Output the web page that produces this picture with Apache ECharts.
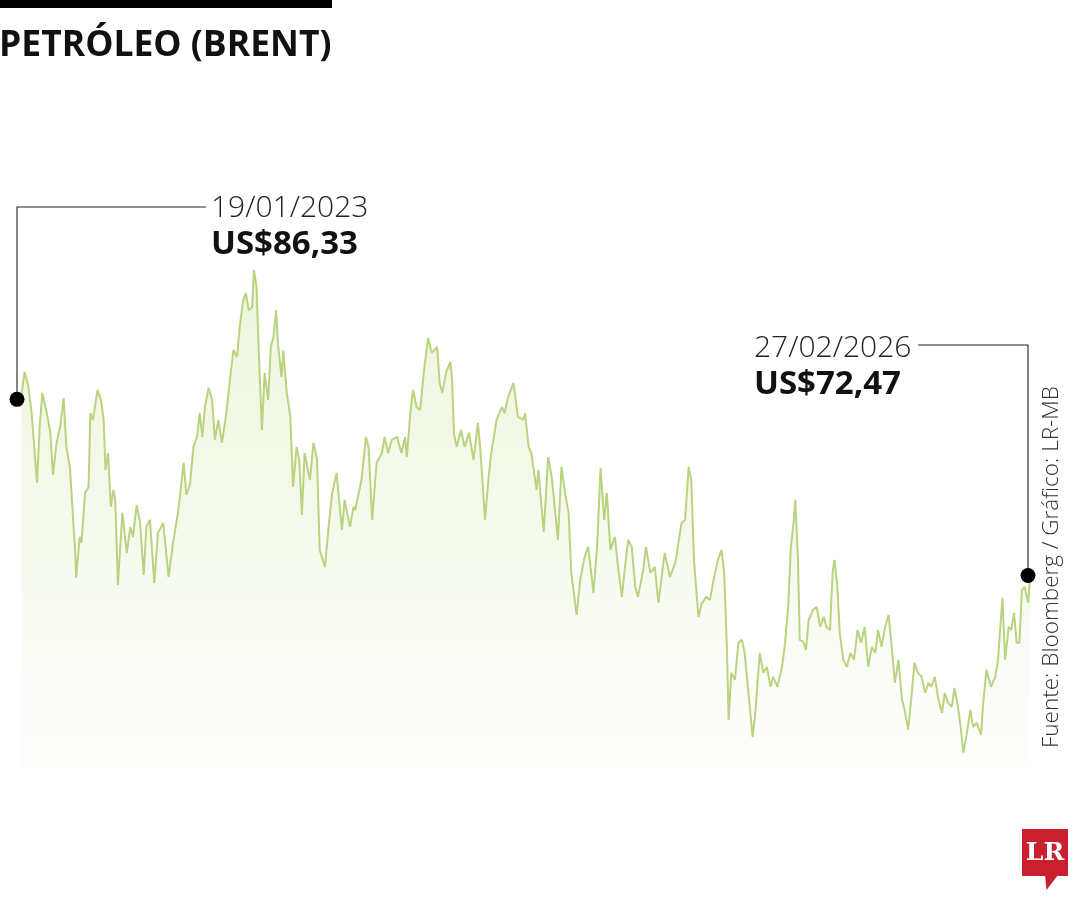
<!DOCTYPE html>
<html>
<head>
<meta charset="utf-8">
<script src="https://cdn.jsdelivr.net/npm/echarts@6/dist/echarts.min.js"></script>
<style>
html,body{margin:0;padding:0;background:#fff;}
#chart{width:1080px;height:900px;}
</style>
</head>
<body>
<div id="chart"></div>
<script>
const titleText = 'PETRÓLEO (BRENT)';
const sourceText = 'Fuente: Bloomberg / Gráfico: LR-MB';

const dates = [
'2023-01-19','2023-01-23','2023-01-27','2023-01-31','2023-02-06','2023-02-09','2023-02-12','2023-02-17','2023-02-21','2023-02-24',
'2023-02-28','2023-03-04','2023-03-08','2023-03-11','2023-03-15','2023-03-21','2023-03-22','2023-03-26','2023-03-28','2023-04-01',
'2023-04-05','2023-04-07','2023-04-10','2023-04-15','2023-04-19','2023-04-22','2023-04-24','2023-04-27','2023-04-30','2023-05-03',
'2023-05-05','2023-05-08','2023-05-13','2023-05-18','2023-05-22','2023-05-25','2023-05-29','2023-06-02','2023-06-06','2023-06-09',
'2023-06-13','2023-06-18','2023-06-22','2023-06-28','2023-07-04','2023-07-09','2023-07-15','2023-07-21','2023-07-24','2023-07-28',
'2023-08-01','2023-08-05','2023-08-08','2023-08-11','2023-08-14','2023-08-18','2023-08-22','2023-08-25','2023-08-29','2023-09-02',
'2023-09-07','2023-09-11','2023-09-15','2023-09-19','2023-09-22','2023-09-26','2023-09-29','2023-10-02','2023-10-06','2023-10-08',
'2023-10-11','2023-10-13','2023-10-17','2023-10-20','2023-10-24','2023-10-27','2023-10-30','2023-11-02','2023-11-04','2023-11-08',
'2023-11-10','2023-11-14','2023-11-18','2023-11-21','2023-11-25','2023-11-28','2023-12-01','2023-12-04','2023-12-10','2023-12-14',
'2023-12-18','2023-12-21','2023-12-27','2023-12-31','2024-01-04','2024-01-09','2024-01-15','2024-01-18','2024-01-24','2024-01-28',
'2024-01-30','2024-02-06','2024-02-11','2024-02-14','2024-02-18','2024-02-23','2024-02-29','2024-03-03','2024-03-07','2024-03-11',
'2024-03-17','2024-03-22','2024-03-26','2024-03-28','2024-04-01','2024-04-04','2024-04-08','2024-04-12','2024-04-16','2024-04-21',
'2024-04-25','2024-05-01','2024-05-04','2024-05-07','2024-05-11','2024-05-16','2024-05-18','2024-05-20','2024-05-23','2024-05-28',
'2024-06-01','2024-06-06','2024-06-11','2024-06-16','2024-06-19','2024-06-24','2024-06-28','2024-07-01','2024-07-07','2024-07-13',
'2024-07-16','2024-07-20','2024-07-26','2024-07-31','2024-08-06','2024-08-08','2024-08-12','2024-08-15','2024-08-21','2024-08-23',
'2024-08-29','2024-09-03','2024-09-07','2024-09-14','2024-09-18','2024-09-22','2024-09-26','2024-09-29','2024-10-05','2024-10-09',
'2024-10-14','2024-10-18','2024-10-24','2024-10-28','2024-11-01','2024-11-05','2024-11-08','2024-11-12','2024-11-17','2024-11-21',
'2024-11-25','2024-11-28','2024-12-02','2024-12-06','2024-12-10','2024-12-13','2024-12-19','2024-12-22','2024-12-27','2025-01-01',
'2025-01-05','2025-01-12','2025-01-18','2025-01-24','2025-01-31','2025-02-04','2025-02-08','2025-02-11','2025-02-14','2025-02-19',
'2025-02-23','2025-02-28','2025-03-04','2025-03-08','2025-03-13','2025-03-17','2025-03-20','2025-03-23','2025-03-25','2025-03-28',
'2025-04-01','2025-04-05','2025-04-09','2025-04-12','2025-04-16','2025-04-21','2025-04-24','2025-04-29','2025-05-03','2025-05-07',
'2025-05-11','2025-05-14','2025-05-19','2025-05-24','2025-05-27','2025-05-31','2025-06-03','2025-06-06','2025-06-08','2025-06-11',
'2025-06-13','2025-06-17','2025-06-20','2025-06-23','2025-06-28','2025-07-02','2025-07-06','2025-07-10','2025-07-13','2025-07-17',
'2025-07-20','2025-07-22','2025-07-25','2025-07-28','2025-08-01','2025-08-05','2025-08-09','2025-08-13','2025-08-17','2025-08-21',
'2025-08-25','2025-08-29','2025-09-02','2025-09-06','2025-09-09','2025-09-13','2025-09-17','2025-09-21','2025-09-25','2025-09-28',
'2025-10-02','2025-10-06','2025-10-09','2025-10-13','2025-10-17','2025-10-20','2025-10-24','2025-10-28','2025-11-01','2025-11-05',
'2025-11-08','2025-11-12','2025-11-16','2025-11-20','2025-11-23','2025-11-27','2025-12-01','2025-12-04','2025-12-08','2025-12-11',
'2025-12-14','2025-12-18','2025-12-22','2025-12-25','2025-12-29','2026-01-03','2026-01-05','2026-01-09','2026-01-14','2026-01-19',
'2026-01-22','2026-01-27','2026-01-30','2026-02-03','2026-02-06','2026-02-09','2026-02-12','2026-02-15','2026-02-18','2026-02-21',
'2026-02-25','2026-02-27'
];

const prices = [
86.33,88.46,87.45,85.27,79.83,84.19,86.83,85.27,83.72,80.45,
82.94,84.19,86.44,82.63,81.08,74.39,72.44,75.63,75.17,79.05,
79.52,85.27,84.73,87.06,86.29,84.73,80.84,82.16,77.97,79.29,
78.51,71.90,77.50,74.39,76.41,75.63,78.12,76.72,72.68,76.41,
76.95,72.06,75.94,76.72,72.52,75.17,77.73,81.39,78.90,79.68,
82.63,83.41,85.27,83.41,85.74,87.22,86.29,83.18,84.73,82.94,
85.27,87.84,90.17,89.63,91.96,94.06,94.61,93.28,93.52,96.40,
95.07,90.95,83.95,88.39,86.29,90.41,91.18,93.28,90.72,88.07,
90.17,86.83,84.96,79.52,82.63,81.62,77.34,82.16,80.06,82.94,
81.62,74.62,73.30,76.41,79.05,80.61,76.18,78.51,76.41,77.97,
77.73,80.06,83.41,82.63,76.95,81.39,82.16,83.41,82.16,83.18,
83.41,82.16,83.41,81.85,85.27,87.06,85.74,85.51,88.39,91.11,
89.94,90.41,87.61,86.83,88.39,89.24,87.84,83.72,82.63,83.95,
82.63,83.72,81.62,84.50,82.16,76.95,80.30,82.16,84.73,85.74,
85.27,86.52,87.61,84.96,84.73,85.27,82.63,82.16,79.29,80.84,
76.02,81.85,80.30,75.40,81.08,79.05,77.50,72.83,69.57,72.29,
74.08,74.85,71.28,74.85,81.00,76.95,79.05,74.62,75.63,73.07,
70.97,73.07,75.40,74.85,71.74,70.97,73.07,74.85,72.83,73.30,
70.50,74.39,72.52,73.61,76.72,76.95,81.08,80.06,73.84,69.41,
70.50,70.97,70.73,72.29,73.84,74.62,72.83,67.08,61.40,65.06,
64.51,67.39,67.62,66.61,63.73,60.08,61.95,66.61,65.06,65.52,
63.97,64.75,63.97,65.52,67.08,70.19,74.85,76.72,78.51,73.84,
67.62,67.47,66.85,69.18,69.96,70.19,68.63,69.41,68.63,68.40,
72.83,73.84,72.06,68.17,66.07,65.52,66.61,66.07,68.40,67.39,
68.63,65.52,67.08,66.61,68.40,67.08,68.63,69.57,66.61,64.28,
66.07,62.96,62.18,60.63,63.50,65.83,65.06,64.75,63.50,64.28,
63.97,64.75,62.96,61.95,63.50,62.72,62.41,63.89,62.41,60.86,
58.84,60.39,62.18,60.86,61.17,60.24,62.41,65.29,63.97,64.75,
66.07,70.89,66.07,68.63,68.40,69.72,67.39,67.39,71.51,71.74,
70.50,72.47
];

const yMin = 57.5, yMax = 100;

function fmtDate(s){ const p = s.split('-'); return p[2] + '/' + p[1] + '/' + p[0]; }
function fmtPrice(v){ return 'US$' + v.toFixed(2).replace('.', ','); }

const seriesData = dates.map((d, i) => [d, prices[i]]);
const last = dates.length - 1;

const chart = echarts.init(document.getElementById('chart'), null, {renderer: 'canvas'});

const lightFont = '"Open Sans", "Noto Sans", sans-serif';

chart.setOption({
  animation: false,
  backgroundColor: '#ffffff',
  grid: {left: 21, right: 50, top: 223.6, bottom: 130, containLabel: false},
  xAxis: {type: 'time', min: dates[0], max: dates[last], show: false},
  yAxis: {type: 'value', min: yMin, max: yMax, show: false},
  series: [
    {
      type: 'line',
      data: seriesData,
      showSymbol: false,
      symbol: 'none',
      lineStyle: {color: '#b9d47e', width: 2},
      areaStyle: {
        color: new echarts.graphic.LinearGradient(0, 0, 0, 1, [
          {offset: 0, color: 'rgba(212,231,172,0.6)'},
          {offset: 0.6, color: 'rgba(224,237,196,0.38)'},
          {offset: 1, color: 'rgba(240,246,228,0.15)'}
        ])
      },
      z: 2
    },
    {
      type: 'scatter',
      data: [
        {value: seriesData[0], symbolOffset: [-4, 0]},
        {value: seriesData[last], symbolOffset: [-2, -2]}
      ],
      symbol: 'circle',
      symbolSize: 15,
      itemStyle: {color: '#000', opacity: 1},
      z: 5,
      silent: true
    }
  ]
});

const p0 = chart.convertToPixel({seriesIndex: 0}, seriesData[0]);
const p1 = chart.convertToPixel({seriesIndex: 0}, seriesData[last]);

chart.setOption({
  graphic: [
    {type: 'rect', shape: {x: 0, y: 0, width: 332, height: 8}, style: {fill: '#000'}},
    {type: 'text', x: -1, y: 46, style: {text: titleText, font: 'bold 35.5px "Open Sans", sans-serif', fill: '#111', verticalAlign: 'middle', align: 'left'}},
    {type: 'polyline', shape: {points: [[p0[0] - 4, p0[1]], [p0[0] - 4, 207], [206, 207]]}, style: {stroke: '#222', lineWidth: 1.1, fill: null}, z: 4},
    {type: 'text', x: 211, y: 208, style: {text: fmtDate(dates[0]), font: '300 30px ' + lightFont, fill: '#222', verticalAlign: 'middle', align: 'left'}},
    {type: 'text', x: 211, y: 245, style: {text: fmtPrice(prices[0]), font: 'bold 33px ' + lightFont, fill: '#111', verticalAlign: 'middle', align: 'left'}},
    {type: 'polyline', shape: {points: [[p1[0] - 2, p1[1] - 2], [p1[0] - 2, 345], [918, 345]]}, style: {stroke: '#222', lineWidth: 1.1, fill: null}, z: 4},
    {type: 'text', x: 754, y: 348, style: {text: fmtDate(dates[last]), font: '300 30px ' + lightFont, fill: '#222', verticalAlign: 'middle', align: 'left'}},
    {type: 'text', x: 754, y: 385, style: {text: fmtPrice(prices[last]), font: 'bold 33px ' + lightFont, fill: '#111', verticalAlign: 'middle', align: 'left'}},
    {type: 'text', x: 1052, y: 748, rotation: Math.PI / 2, style: {text: sourceText, font: '300 22.5px ' + lightFont, fill: '#333', verticalAlign: 'middle', align: 'left'}},
    {type: 'group', children: [
      {type: 'rect', shape: {x: 1022, y: 829, width: 46, height: 47}, style: {fill: '#c8202e'}},
      {type: 'polygon', shape: {points: [[1045, 875], [1058, 875], [1046.5, 890]]}, style: {fill: '#c8202e'}},
      {type: 'text', x: 1045, y: 853, style: {text: 'LR', font: 'bold 25px "DejaVu Serif", "Liberation Serif", serif', fill: '#fff', align: 'center', verticalAlign: 'middle'}}
    ]}
  ]
});
</script>
</body>
</html>
